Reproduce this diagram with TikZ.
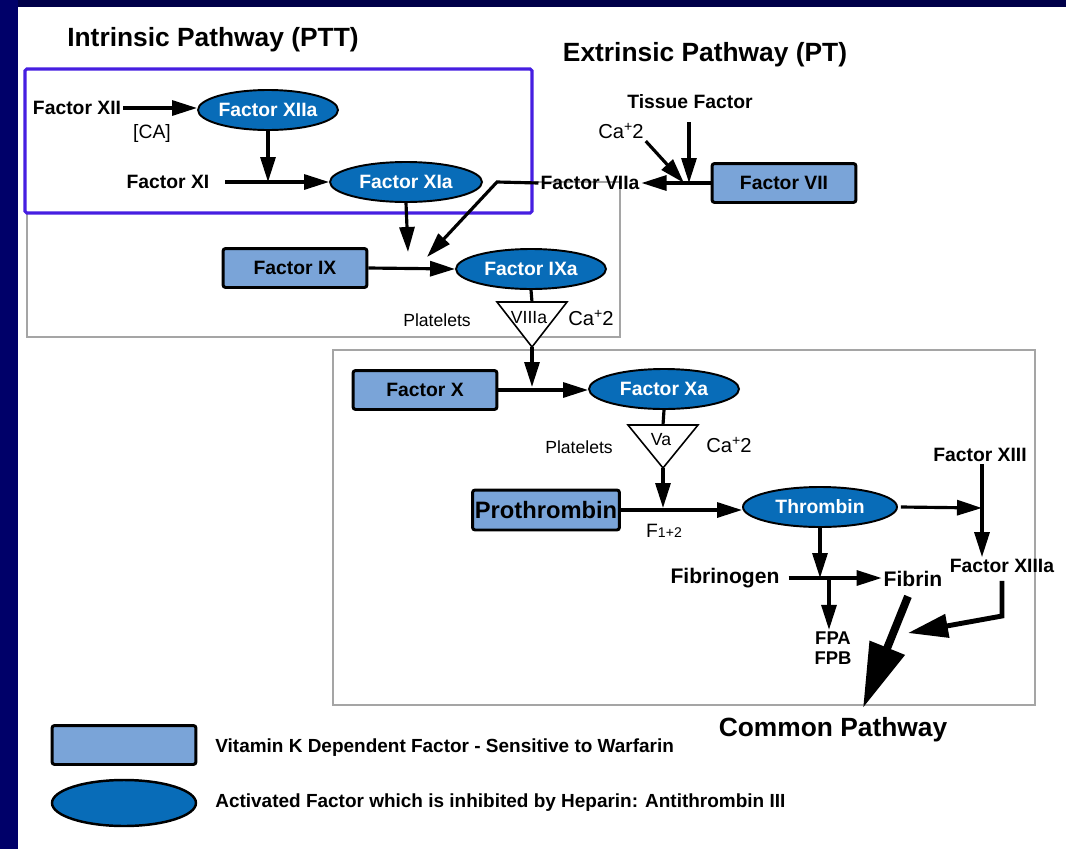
\documentclass[tikz,border=0pt]{standalone}
\usepackage{fontspec}
\setmainfont{Liberation Sans}
\usetikzlibrary{arrows.meta, positioning, shapes.geometric}
\definecolor{slideNavy}{RGB}{0,0,105}
\definecolor{frameViolet}{RGB}{70,30,225}
\definecolor{panelGray}{RGB}{165,165,165}
\definecolor{activeBlue}{RGB}{8,108,184}
\definecolor{vitkBlue}{RGB}{122,164,216}
\newcommand{\caion}{Ca\textsuperscript{+}\kern-0.5pt2}

\begin{document}
\begin{tikzpicture}[
  x=0.02cm, y=-0.02cm,
  act/.style={ellipse, draw=black, line width=1.1pt, fill=activeBlue, text=white, font=\fontsize{11}{13}\selectfont\bfseries, minimum width=3cm, minimum height=0.8cm, inner sep=0pt},
  vkd/.style={rectangle, draw=black, line width=1.7pt, fill=vitkBlue, rounded corners=1.5pt, font=\fontsize{11}{13}\selectfont\bfseries, minimum width=2.88cm, minimum height=0.78cm, inner sep=1pt},
  lbl/.style={font=\fontsize{11}{13}\selectfont\bfseries, inner sep=1pt},
  txt/.style={font=\fontsize{10}{12}\selectfont, inner sep=1pt},
  title/.style={font=\fontsize{15}{18}\selectfont\bfseries, inner sep=0pt},
  legtxt/.style={font=\fontsize{10.8}{12}\selectfont\bfseries, inner sep=0pt, anchor=west},
  cofactor/.style={draw=black, line width=0.9pt, fill=white, line join=miter},
  line/.style={draw=black, line width=1.8pt, -{Triangle[length=0.5cm, width=0.3cm]}},
  stem/.style={draw=black, line width=1.8pt},
  bigline/.style={draw=black, line width=4.5pt, -{Triangle[length=1.3cm, width=0.72cm]}},
  medline/.style={draw=black, line width=2.8pt, line join=miter, -{Triangle[length=0.8cm, width=0.46cm]}},
  panel/.style={draw=panelGray, line width=0.8pt}
]
  \useasboundingbox (0,0) rectangle (1066,849);
  % slide frame
  \fill[slideNavy!70!black] (0,0) rectangle (1066,7);
  \fill[slideNavy] (0,0) rectangle (18,849);

  % panels
  \draw[panel] (27,182) rectangle (620,337);
  \draw[panel] (333,350) rectangle (1035,705);
  \draw[frameViolet, line width=1.8pt, fill=white, rounded corners=1pt] (25,69) rectangle (532,213);

  \node[title] (intr) at (213,40) {Intrinsic Pathway (PTT)};
  \node[title] (extr) at (705,55) {Extrinsic Pathway (PT)};

  % intrinsic
  \node[lbl] (fXII) at (77,108) {Factor XII};
  \node[act, minimum width=2.8cm] (fXIIa) at (268,110) {Factor XIIa};
  \node[txt, font=\fontsize{11}{13}\selectfont] (cact) at (152,133) {[CA]};
  \node[lbl] (fXI) at (168,182) {Factor XI};
  \node[act, minimum width=3.04cm] (fXIa) at (406,182) {Factor XIa};
  \node[vkd] (fIX) at (295,268) {Factor IX};
  \node[act] (fIXa) at (531,269) {Factor IXa};
  \node[txt] (platA) at (437,320) {Platelets};
  \node[txt, font=\fontsize{11.5}{13}\selectfont] (caA) at (591,318) {\caion};
  \draw[cofactor] (497,302) -- (567,302) -- (532,347) -- cycle;
  \node[txt, font=\fontsize{10}{11}\selectfont] (VIIIa) at (529,318) {VIIIa};
  \coordinate (VIIIaTop) at (532,302);
  \coordinate (VIIIaTip) at (532,347);

  % extrinsic
  \node[lbl] (tissue) at (690,102) {Tissue Factor};
  \node[txt, font=\fontsize{11.5}{13}\selectfont] (caB) at (621,131) {\caion};
  \node[lbl] (fVIIa) at (590,183) {Factor VIIa};
  \node[vkd] (fVII) at (784,183) {Factor VII};
  \coordinate (jVII) at (689,183);
  \coordinate (bVIIa) at (497,182);
  \coordinate (tIXb) at (427,257);
  \coordinate (tIXa) at (408,252);
  \coordinate (jXI) at (268,182);

  % common
  \node[vkd] (fX) at (425,390) {Factor X};
  \node[act] (fXa) at (664,389) {Factor Xa};
  \node[txt] (platB) at (579,447) {Platelets};
  \node[txt, font=\fontsize{11.5}{13}\selectfont] (caC) at (729,445) {\caion};
  \draw[cofactor] (628,425) -- (698,425) -- (663,468) -- cycle;
  \node[txt, font=\fontsize{10}{11}\selectfont] (Va) at (661,440) {Va};
  \coordinate (VaTop) at (663,425);
  \coordinate (VaTip) at (663,468);
  \coordinate (jX) at (532,387);
  \coordinate (jPro) at (663,508);
  \node[vkd, font=\fontsize{13.5}{15}\selectfont\bfseries, minimum width=2.94cm, minimum height=0.8cm, inner sep=0pt] (proth) at (546,510) {Prothrombin};
  \node[act, minimum width=3.08cm] (thromb) at (820,507) {Thrombin};
  \node[txt, font=\fontsize{11}{13}\selectfont] (frag) at (664,531) {F{\fontsize{8}{9}\selectfont 1+2}};
  \node[lbl] (fXIII) at (980,455) {Factor XIII};
  \node[lbl] (fXIIIa) at (1002,566) {Factor XIIIa};
  \node[lbl, font=\fontsize{12}{14}\selectfont\bfseries] (fbg) at (725,578) {Fibrinogen};
  \node[lbl, font=\fontsize{12}{14}\selectfont\bfseries] (fbn) at (913,579) {Fibrin};
  \node[lbl, font=\fontsize{10.5}{12}\selectfont\bfseries, align=center] (fpab) at (833,648) {FPA\\[-1pt]FPB};
  \node[title] (common) at (833,730) {Common Pathway};
  \coordinate (jXIII) at (982,508);
  \coordinate (jFbg) at (820,578);
  \coordinate (jFp) at (829,578);
  \coordinate (tCommon) at (863,708);
  \coordinate (bXIIIa) at (1002,616);
  \coordinate (tXIIIa) at (908,633);

  % legend
  \node[vkd, minimum height=0.78cm] (legVK) at (124,745) {};
  \node[act, minimum width=2.88cm, minimum height=0.92cm, line width=1.4pt] (legAct) at (124,803) {};
  \node[legtxt] (legVKt) at (215,748) {Vitamin K Dependent Factor - Sensitive to Warfarin};
  \node[legtxt] (legActt) at (215,803) {Activated Factor which is inhibited by Heparin: Antithrombin III};

  % connectors
  \path[line] (fXII.east) -- (fXII.east -| fXIIa.west);
  \path[line] (fXIIa.south) -- (jXI);
  \path[line] ([xshift=0.28cm]fXI.east) -- (fXIa.west);
  \path[line] (fXIa.south) -- (tIXa);
  \path[line] (fVIIa.west) -- (bVIIa) -- (tIXb);
  \path[line] (fIX.east) -- (fIXa.west);
  \path[line] (fVII.west) -- (fVIIa.east);
  \path[line] ([yshift=-0.22cm]tissue.south -| jVII) -- (jVII);
  \path[line] (caB.south east) -- ([xshift=-0.1cm]jVII);
  \path[stem] (fIXa.south) -- (VIIIaTop);
  \path[line] (VIIIaTip) -- (jX);
  \path[line] (fX.east) -- (fX.east -| fXa.west);
  \path[stem] (fXa.south) -- (VaTop);
  \path[line] (VaTip) -- (jPro);
  \path[line] (proth.east) -- (proth.east -| thromb.west);
  \path[line] ([xshift=0.06cm]thromb.east) -- (jXIII);
  \path[line] (fXIII.south -| jXIII) -- (jXIII) -- (fXIIIa.north -| jXIII);
  \path[line] (thromb.south) -- (jFbg);
  \path[line, shorten >=0.14cm] ([xshift=0.14cm]fbg.east) -- ([xshift=0.14cm]fbg.east -| fbn.west);
  \path[line] (jFp) -- (fpab.north -| jFp);
  \path[bigline] ([xshift=-0.1cm, yshift=-0.15cm]fbn.south) -- (tCommon);
  \path[medline] ([yshift=-0.12cm]fXIIIa.south) -- (bXIIIa) -- (tXIIIa);
\end{tikzpicture}
\end{document}
